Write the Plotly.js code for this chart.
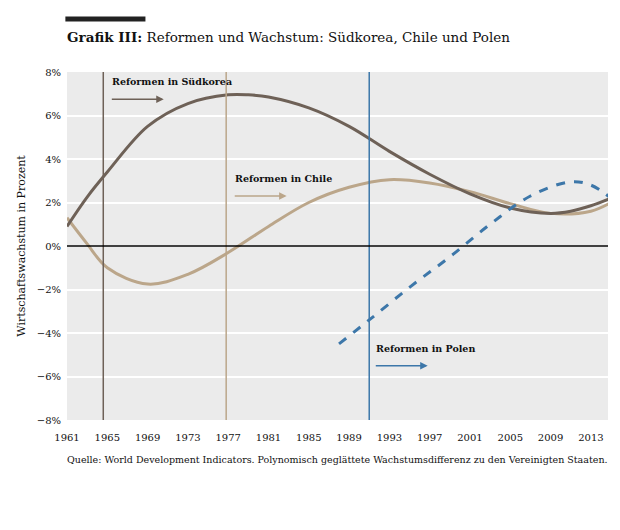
<!DOCTYPE html>
<html lang="de">
<head>
<meta charset="UTF-8">
<title>Grafik III</title>
<script src="https://cdn.plot.ly/plotly-3.0.1.min.js"></script>
<style>body{margin:0;background:#fff}</style>
</head>
<body>
<div id="plot" style="width:620px;height:530px"></div>
<script>
    const koreaYears = [1961, 1963, 1965, 1969, 1973, 1977, 1979, 1981, 1985, 1989, 1993, 1997, 2001, 2005, 2009, 2011, 2013, 2015]
    const koreaVals = [0.9, 2.25, 3.4, 5.5, 6.55, 6.95, 6.95, 6.85, 6.35, 5.5, 4.35, 3.3, 2.4, 1.75, 1.5, 1.6, 1.85, 2.2]
    const chileYears = [1961, 1963, 1965, 1969, 1973, 1977, 1981, 1985, 1989, 1993, 1997, 2001, 2005, 2009, 2013, 2015]
    const chileVals = [1.3, 0.1, -1.0, -1.75, -1.3, -0.3, 0.9, 2.0, 2.7, 3.05, 2.9, 2.5, 1.95, 1.5, 1.6, 2.0]
    const polenYears = [1988, 1991, 1995, 1999, 2003, 2007, 2011, 2013, 2015]
    const polenVals = [-4.5, -3.4, -1.9, -0.5, 1.0, 2.3, 2.95, 2.8, 2.2]
    const reformYears = [1964.6, 1976.8, 1991]
    const tickYears = [1961, 1965, 1969, 1973, 1977, 1981, 1985, 1989, 1993, 1997, 2001, 2005, 2009, 2013]

    const cKorea = '#6e6157', cChile = '#bba68a', cPolen = '#3d77a9'
    const font = 'DejaVu Serif'

    const data = [
        {x: chileYears, y: chileVals, mode: 'lines', line: {color: cChile, width: 3, shape: 'spline'}},
        {x: koreaYears, y: koreaVals, mode: 'lines', line: {color: cKorea, width: 3, shape: 'spline'}},
        {x: polenYears, y: polenVals, mode: 'lines', line: {color: cPolen, width: 3, dash: 'dash', shape: 'spline'}}
    ]

    const colors = [cKorea, cChile, cPolen]
    const shapes = reformYears.map((yr, i) => ({
        type: 'line', x0: yr, x1: yr, y0: -8, y1: 8, line: {color: colors[i], width: 1.5}
    }))
    shapes.push({type: 'line', x0: 1961, x1: 2014.7, y0: 0, y1: 0, line: {color: '#000', width: 1.5}})
    shapes.push({type: 'line', xref: 'paper', yref: 'paper', x0: -0.003, x1: 0.145, y0: 1.152, y1: 1.152, line: {color: '#222', width: 5}})

    function label(txt, x, y, c, ax) {
        return [
            {x: x, y: y, text: '<b>' + txt + '</b>', showarrow: false, xanchor: 'left', yanchor: 'bottom', font: {family: font, size: 9.5, color: '#111'}},
            {x: x + ax, y: y - 0.45, ax: x, ay: y - 0.45, axref: 'x', ayref: 'y', text: '', showarrow: true, arrowhead: 2, arrowsize: 1, arrowwidth: 1.5, arrowcolor: c}
        ]
    }

    const annotations = [
        ...label('Reformen in Südkorea', 1965.3, 7.2, cKorea, 5.3),
        ...label('Reformen in Chile', 1977.5, 2.75, cChile, 5.3),
        ...label('Reformen in Polen', 1991.5, -5.05, cPolen, 5.3),
        {xref: 'paper', yref: 'paper', x: -0.003, y: 1.1, xanchor: 'left', yanchor: 'middle', showarrow: false,
         text: '<b>Grafik III:</b> Reformen und Wachstum: Südkorea, Chile und Polen', font: {family: font, size: 13.5, color: '#111'}},
        {xref: 'paper', yref: 'paper', x: -0.003, y: -0.135, xanchor: 'left', showarrow: false,
         text: 'Quelle: World Development Indicators. Polynomisch geglättete Wachstumsdifferenz zu den Vereinigten Staaten.', font: {family: font, size: 9.5, color: '#111'}}
    ]

    const layout = {
        width: 620, height: 530,
        margin: {l: 67, r: 12, t: 72, b: 110},
        paper_bgcolor: '#fff', plot_bgcolor: '#ebebeb',
        showlegend: false,
        font: {family: font, size: 10, color: '#111'},
        xaxis: {range: [1961, 2014.7], tickvals: tickYears, showgrid: false, zeroline: false,
                ticks: 'outside', ticklen: 8, tickcolor: 'rgba(0,0,0,0)', tickfont: {size: 10}},
        yaxis: {range: [-8, 8], dtick: 2, ticksuffix: '%', gridcolor: '#fff', gridwidth: 1.5, zeroline: false,
                ticks: 'outside', ticklen: 3, tickcolor: 'rgba(0,0,0,0)',
                title: {text: 'Wirtschaftswachstum in Prozent', font: {size: 11}, standoff: 8}},
        shapes: shapes,
        annotations: annotations
    }

    Plotly.newPlot('plot', data, layout, {displayModeBar: false})
</script>
</body>
</html>
